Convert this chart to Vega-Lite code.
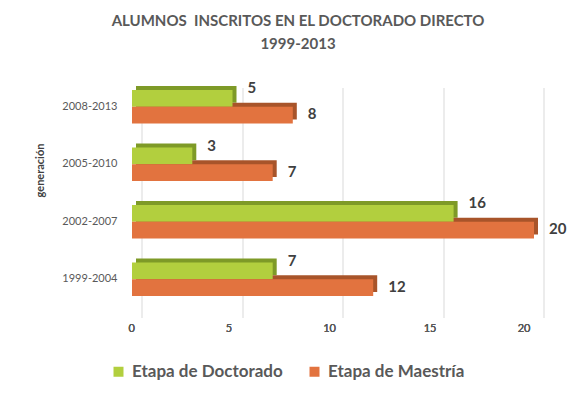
{
  "$schema": "https://vega.github.io/schema/vega-lite/v6.json",
  "width": 402,
  "height": 230,
  "autosize": "none",
  "padding": {"left": 132, "top": 78, "right": 43, "bottom": 87},
  "background": "white",
  "title": {
    "text": ["ALUMNOS \u00a0INSCRITOS EN EL DOCTORADO DIRECTO", "1999-2013"],
    "font": "Lato", "fontSize": 15, "fontWeight": "bold", "color": "#595959",
    "anchor": "middle", "frame": "group", "offset": 26, "lineHeight": 23, "dx": -35
  },
  "config": {"view": {"stroke": null}},
  "data": {
    "values": [
      {"generacion": "2008-2013", "etapa": "Etapa de Doctorado", "alumnos": 5},
      {"generacion": "2008-2013", "etapa": "Etapa de Maestría", "alumnos": 8},
      {"generacion": "2005-2010", "etapa": "Etapa de Doctorado", "alumnos": 3},
      {"generacion": "2005-2010", "etapa": "Etapa de Maestría", "alumnos": 7},
      {"generacion": "2002-2007", "etapa": "Etapa de Doctorado", "alumnos": 16},
      {"generacion": "2002-2007", "etapa": "Etapa de Maestría", "alumnos": 20},
      {"generacion": "1999-2004", "etapa": "Etapa de Doctorado", "alumnos": 7},
      {"generacion": "1999-2004", "etapa": "Etapa de Maestría", "alumnos": 12}
    ]
  },
  "resolve": {"scale": {"yOffset": "independent"}},
  "encoding": {
    "y": {"field": "generacion", "type": "nominal",
          "sort": ["2008-2013", "2005-2010", "2002-2007", "1999-2004"],
          "scale": {"paddingInner": 0.42, "paddingOuter": 0.21},
          "axis": {"title": "generación", "titleFont": "Lato", "titleFontSize": 11, "titleFontWeight": "bold",
                   "titleColor": "#404040", "titlePadding": 16, "titleY": 92,
                   "labelFont": "Lato", "labelFontSize": 11, "labelColor": "#595959",
                   "labelPadding": 15, "ticks": false, "domain": false, "grid": false}},
    "yOffset": {"field": "etapa", "type": "nominal",
                "scale": {"type": "band", "domain": ["Etapa de Doctorado", "Etapa de Maestría"], "range": [0, 33.35], "padding": 0}},
    "x": {"field": "alumnos", "type": "quantitative", "scale": {"domain": [0, 20], "nice": false},
          "axis": {"orient": "bottom", "title": null, "grid": false, "ticks": false, "domain": false,
                   "labelFont": "Lato", "labelFontSize": 11, "labelColor": "#595959",
                   "labelPadding": 14, "labelOffset": -4, "values": [0, 5, 10, 15, 20]}}
  },
  "layer": [
    {
      "mark": {"type": "bar", "xOffset": 4},
      "encoding": {
        "yOffset": {"field": "etapa", "type": "nominal",
                    "scale": {"type": "band", "domain": ["Etapa de Doctorado", "Etapa de Maestría"], "range": [-4, 29.35], "padding": 0}},
        "x": {"field": "alumnos", "type": "quantitative", "scale": {"domain": [0, 20], "nice": false},
              "axis": {"orient": "top", "title": null, "labels": false, "ticks": false, "domain": false,
                       "grid": true, "gridColor": "#d9d9d9", "translate": 10, "values": [0, 5, 10, 15, 20]}},
        "color": {"condition": {"test": "datum.etapa == 'Etapa de Doctorado'", "value": "#7E9A27"}, "value": "#A8542A"}
      }
    },
    {
      "mark": {"type": "bar"},
      "encoding": {
        "color": {"field": "etapa", "type": "nominal",
                  "scale": {"domain": ["Etapa de Doctorado", "Etapa de Maestría"], "range": ["#B2CF3E", "#E2733F"]},
                  "legend": {"title": null, "orient": "none", "direction": "horizontal", "legendX": -22, "legendY": 285,
                             "symbolType": "square", "symbolSize": 100, "symbolStrokeWidth": 0,
                             "labelFont": "Lato", "labelFontSize": 17, "labelFontWeight": "bold", "labelColor": "#595959",
                             "labelOffset": 5, "columnPadding": 23}}
      }
    },
    {
      "transform": [{"filter": "datum.etapa == 'Etapa de Doctorado'"}],
      "mark": {"type": "text", "align": "left", "baseline": "middle", "dx": 15, "dy": -10,
               "font": "Lato", "fontSize": 15, "fontWeight": "bold", "color": "#404040"},
      "encoding": {
        "text": {"field": "alumnos", "type": "quantitative"}
      }
    },
    {
      "transform": [{"filter": "datum.etapa == 'Etapa de Maestría'"}],
      "mark": {"type": "text", "align": "left", "baseline": "middle", "dx": 15, "dy": -1,
               "font": "Lato", "fontSize": 15, "fontWeight": "bold", "color": "#404040"},
      "encoding": {
        "text": {"field": "alumnos", "type": "quantitative"}
      }
    }
  ]
}
